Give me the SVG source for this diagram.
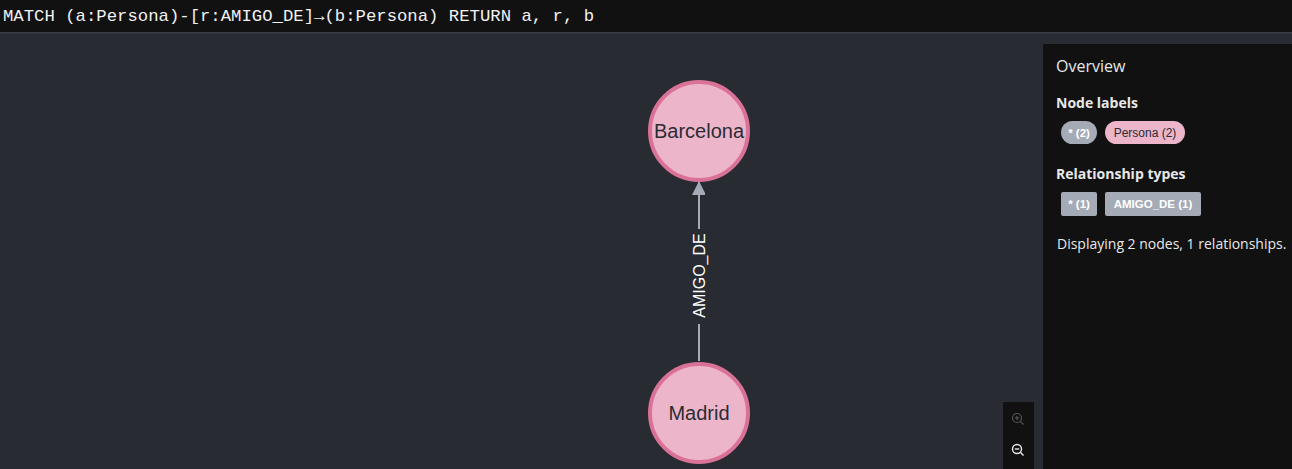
<svg xmlns="http://www.w3.org/2000/svg" width="1292" height="469" viewBox="0 0 1292 469">
<style>
.node circle{fill:#ecb5c9;stroke:#da7298;stroke-width:4}
.node text{font-family:"Liberation Sans",Arial,sans-serif;font-size:20px;fill:#2a2c34;text-anchor:middle}
.h{font-family:"Open Sans","Noto Sans",sans-serif;fill:#e8e8e8}
.pill{font-family:"Liberation Sans",Arial,sans-serif;font-size:11.5px;font-weight:bold;text-anchor:middle}
.pill.reg{font-size:12px;font-weight:normal}
</style>
<defs>
<marker id="arr" markerWidth="14" markerHeight="13" refX="14" refY="7" orient="auto" markerUnits="userSpaceOnUse">
<path d="M0,0 L14,7 L0,14 Z" fill="#a5abb6"/>
</marker>
</defs>
<rect x="0" y="0" width="1292" height="469" fill="#292b32"/>
<rect x="0" y="0" width="1292" height="33" fill="#111111"/>
<rect x="0" y="32" width="1292" height="1.5" fill="#3a3d45"/>
<text x="3" y="21" font-family="'Liberation Mono','DejaVu Sans Mono',monospace" font-size="17" fill="#f2f2f2" textLength="591" lengthAdjust="spacingAndGlyphs">MATCH (a:Persona)-[r:AMIGO_DE]→(b:Persona) RETURN a, r, b</text>
<g id="connectors">
<line x1="699" y1="361" x2="699" y2="324" stroke="#a5abb6" stroke-width="2"/>
<line x1="699" y1="229" x2="699" y2="181" stroke="#a5abb6" stroke-width="2" marker-end="url(#arr)"/>
<text transform="translate(699,275.5) rotate(-90)" y="5.5" font-family="'Liberation Sans',Arial,sans-serif" font-size="16" fill="#ffffff" text-anchor="middle">AMIGO_DE</text>
</g>
<g id="node-barcelona" class="node">
<circle cx="699" cy="131" r="49"/>
<text x="699" y="138">Barcelona</text>
</g>
<g id="node-madrid" class="node">
<circle cx="699" cy="413" r="49"/>
<text x="699" y="420">Madrid</text>
</g>
<g id="zoom-controls">
<rect x="1003" y="402" width="31" height="67" fill="#111111"/>
<g fill="none" stroke="#555" stroke-width="1.2">
<circle cx="1017" cy="418" r="4.5"/>
<line x1="1020.3" y1="421.3" x2="1023.5" y2="424.5"/>
<line x1="1015" y1="418" x2="1019" y2="418"/>
<line x1="1017" y1="416" x2="1017" y2="420"/>
</g>
<g fill="none" stroke="#e8e8e8" stroke-width="1.4">
<circle cx="1017" cy="449" r="4.5"/>
<line x1="1020.3" y1="452.3" x2="1023.5" y2="455.5"/>
<line x1="1014.8" y1="449" x2="1019.2" y2="449"/>
</g>
</g>
<g id="overview">
<rect x="1043" y="44" width="249" height="425" fill="#111111"/>
<text class="h" x="1056" y="72" font-size="16">Overview</text>
<text class="h" x="1056" y="108" font-size="14" font-weight="bold">Node labels</text>
<rect x="1061" y="121" width="36" height="23" rx="11.5" fill="#a5abb6"/>
<text class="pill" x="1079" y="136.5" fill="#ffffff">* (2)</text>
<rect x="1105" y="121" width="80" height="23" rx="11.5" fill="#ecb5c9"/>
<text class="pill reg" x="1145" y="136.5" fill="#2a2c34">Persona (2)</text>
<text class="h" x="1056" y="179" font-size="14" font-weight="bold">Relationship types</text>
<rect x="1061" y="192" width="36" height="24" rx="2" fill="#a5abb6"/>
<text class="pill" x="1079" y="208" fill="#ffffff">* (1)</text>
<rect x="1105" y="192" width="96" height="24" rx="2" fill="#a5abb6"/>
<text class="pill" x="1153" y="208" fill="#ffffff">AMIGO_DE (1)</text>
<text class="h" x="1057" y="249" font-size="14">Displaying 2 nodes, 1 relationships.</text>
</g>
</svg>
